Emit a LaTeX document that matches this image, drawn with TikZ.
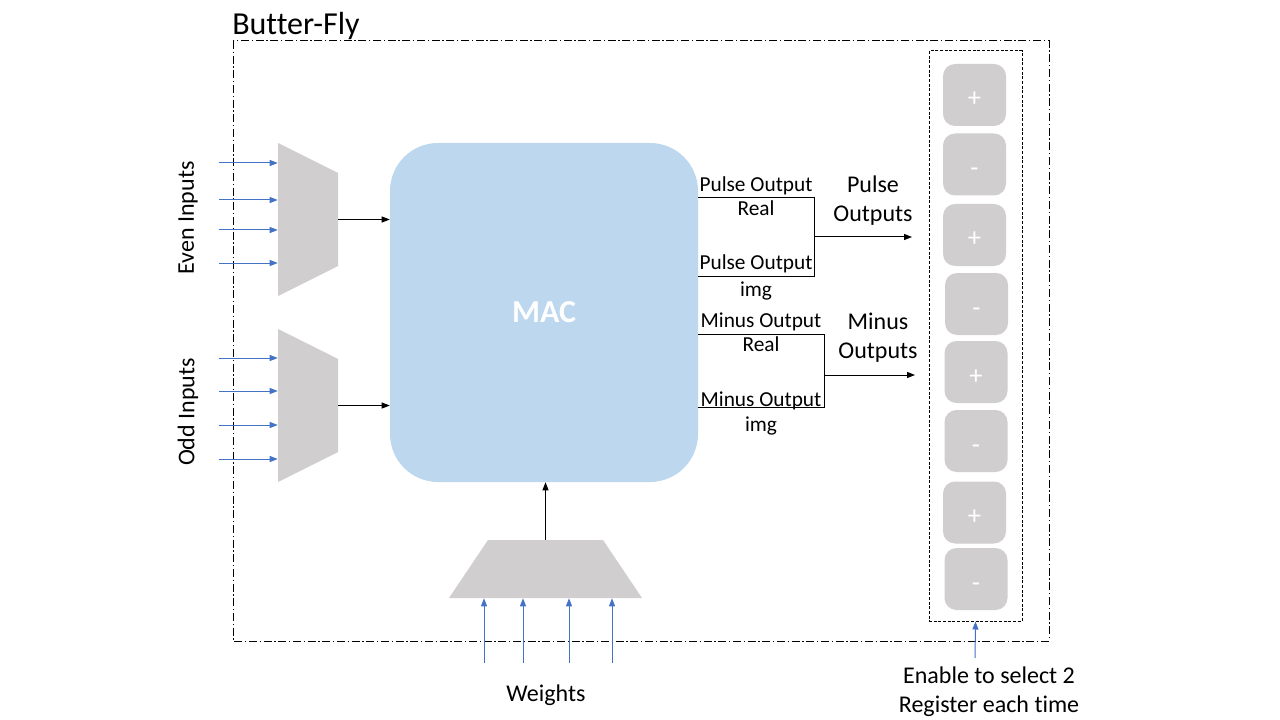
\documentclass[tikz,border=0pt]{standalone}
\usepackage{fontspec}
\setmainfont{Carlito}[Ligatures={NoCommon,NoContextual,NoRequired}]
\usetikzlibrary{arrows.meta}

\definecolor{macblue}{RGB}{189,215,238}
\definecolor{muxgray}{RGB}{208,206,206}
\definecolor{inblue}{RGB}{68,114,196}

\begin{document}
\begin{tikzpicture}[x=0.75pt, y=-0.75pt]

\tikzset{mac/.style = {fill=macblue, rounded corners=36pt, minimum width=231pt, minimum height=254.25pt, text=white, font=\fontsize{24}{28}\selectfont\bfseries}}
\tikzset{reg/.style = {fill=muxgray, rounded corners=9pt, minimum width=47.25pt, minimum height=46.5pt, text height=18pt, text depth=0pt, text=white, font=\fontsize{20}{24}\selectfont}}
\tikzset{muxside/.style = {fill=white, inner sep=0pt, minimum width=45pt, minimum height=114.75pt, path picture={\fill[muxgray] (path picture bounding box.north west) -- ([yshift=-22.5pt]path picture bounding box.north east) -- ([yshift=22.5pt]path picture bounding box.south east) -- (path picture bounding box.south west) -- cycle;}}}
\tikzset{muxbottom/.style = {fill=white, inner sep=0pt, minimum width=144.75pt, minimum height=43.5pt, path picture={\fill[muxgray] ([xshift=29.25pt]path picture bounding box.north west) -- ([xshift=-29.25pt]path picture bounding box.north east) -- (path picture bounding box.south east) -- (path picture bounding box.south west) -- cycle;}}}
\tikzset{bfframe/.style = {draw, line width=0.75pt, dash pattern=on 6pt off 2pt on 1pt off 2pt}}
\tikzset{regframe/.style = {draw, line width=0.75pt, dash pattern=on 2.25pt off 1.25pt, minimum width=69.75pt, minimum height=427.5pt}}
\tikzset{wire/.style = {line width=0.75pt}}
\tikzset{edge/.style = {wire, -{Triangle[length=6pt,width=4.5pt]}}}
\tikzset{inedge/.style = {edge, color=inblue}}
\tikzset{lbl/.style = {font=\fontsize{16}{19}\selectfont, inner sep=2pt}}
\tikzset{big/.style = {font=\fontsize{18}{21.75}\selectfont, align=center}}

\useasboundingbox (0,0) rectangle (1280,720);

%frames
\draw[bfframe] (233,41) rectangle (1049,641);
\node[anchor=base west, inner sep=0pt, font=\fontsize{24}{28}\selectfont] (bfly) at (232,35) {Butter-Fly};
\node[regframe] (regs) at (975.5,336) {};

%blocks
\node[mac] (mac) at (544,312.5) {MAC};
\node[muxside] (evenmux) at (308,219.5) {};
\node[muxside] (oddmux) at (308,405.5) {};
\node[muxbottom] (wmux) at (545.5,569) {};

%registers
\node[reg] (r1) at (974.5,95) {+};
\node[reg] (r2) at (974.5,164.5) {-};
\node[reg] (r3) at (974.5,235) {+};
\node[reg] (r4) at (976.5,304) {-};
\node[reg] (r5) at (976,372) {+};
\node[reg] (r6) at (976,441) {-};
\node[reg] (r7) at (974.5,512.5) {+};
\node[reg] (r8) at (976,579) {-};

%texts
\node[big, rotate=90] (even) at (188,218) {Even Inputs};
\node[big, rotate=90] (odd) at (188,412) {Odd Inputs};
\node[big] (pulse) at (873,200.5) {Pulse\\Outputs};
\node[big] (minus) at (878,337.5) {Minus\\Outputs};
\node[big] (weights) at (546,695) {Weights};
\node[big] (enable) at (989,692) {Enable to select 2\\Register each time};

%inputs
\foreach \y [count=\i] in {163,200,230,263} {
  \coordinate (ein\i) at (219,\y);
  \draw[inedge] (ein\i) -- (ein\i -| evenmux.west);
}
\foreach \y [count=\i] in {358,391,425,459} {
  \coordinate (oin\i) at (219,\y);
  \draw[inedge] (oin\i) -- (oin\i -| oddmux.west);
}
\foreach \x [count=\i] in {484,523,569,612} {
  \coordinate (win\i) at (\x,663);
  \draw[inedge] (win\i) -- (win\i |- wmux.south);
}
\coordinate (en) at (975,658);
\draw[inedge] (en) -- (regs.south);

\draw[edge] (evenmux.east) -- (evenmux.east -| mac.west);
\draw[edge] (oddmux.east) -- (oddmux.east -| mac.west);
\draw[edge] (wmux.north) -- (wmux.north |- mac.south);

%outputs
\coordinate (pr) at (698,198);
\coordinate (pi) at (698,276);
\coordinate (pj) at (814,237);
\coordinate (pend) at (912,237);
\draw[wire] (pr) -| node[lbl, pos=.25, above] {Pulse Output} node[lbl, pos=.25, below] {Real} (pj)
  |- node[lbl, pos=.75, above] {Pulse Output} node[lbl, pos=.75, below, yshift=-2pt] {img} (pi);
\draw[edge] (pj) -- (pend);

\coordinate (mr) at (698,334);
\coordinate (mi) at (698,407);
\coordinate (mj) at (824,375);
\coordinate (mend) at (915,375);
\draw[wire] (mr) -| node[lbl, pos=.25, above] {Minus Output} node[lbl, pos=.25, below] {Real} (mj)
  |- node[lbl, pos=.75, above, yshift=-4.5pt] {Minus Output} node[lbl, pos=.75, below, yshift=-5pt] {img} (mi);
\draw[edge] (mj) -- (mend);

\end{tikzpicture}
\end{document}
